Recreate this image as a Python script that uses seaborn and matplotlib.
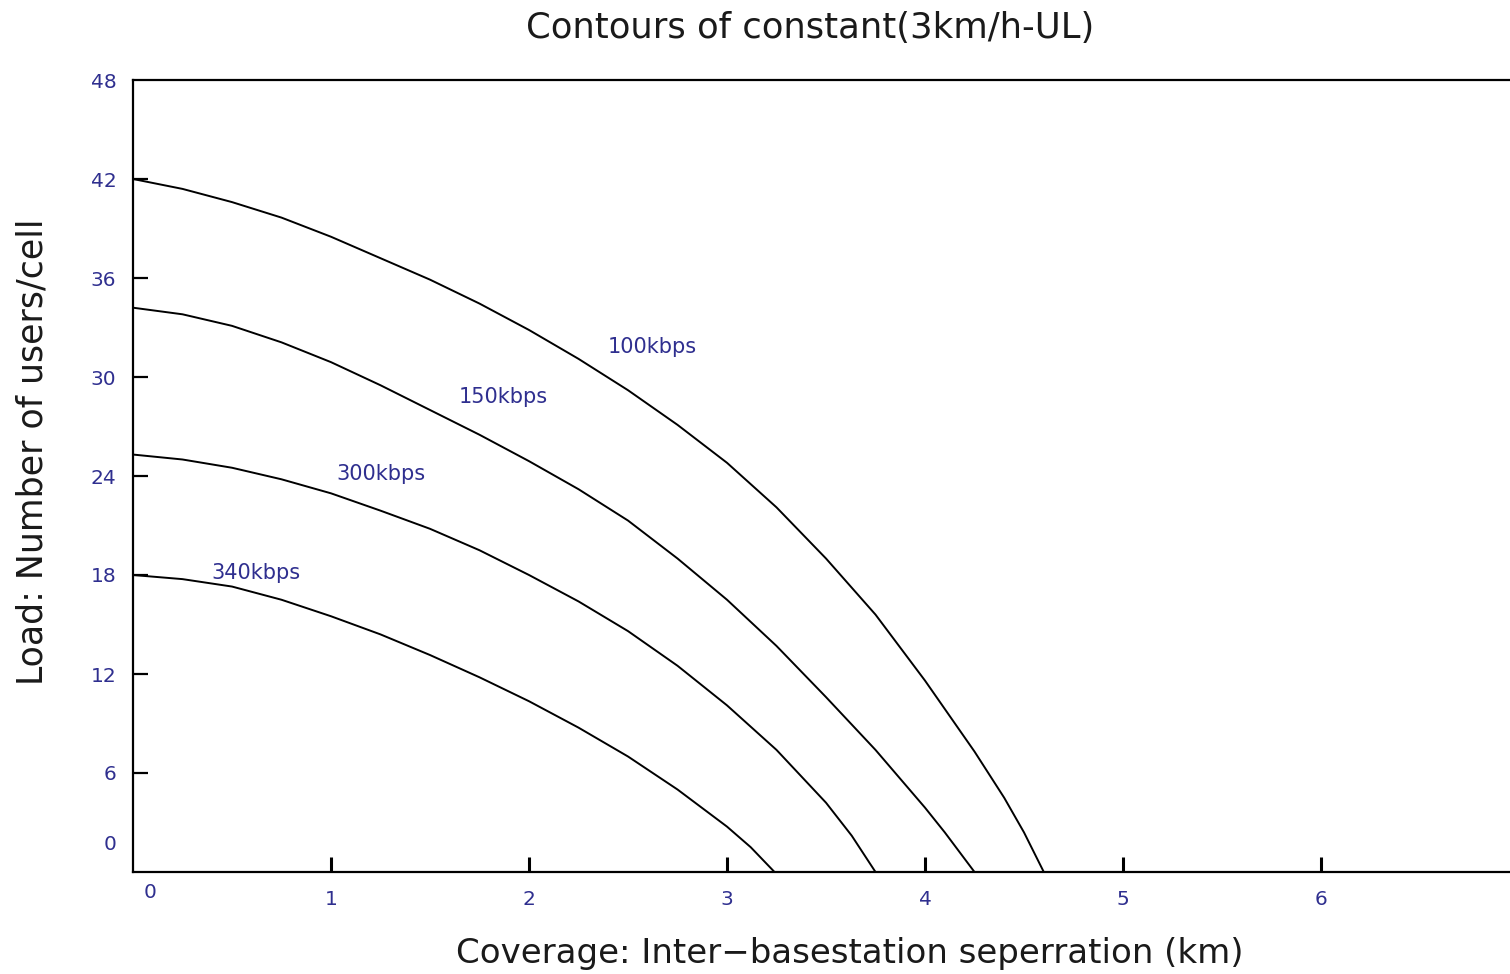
import numpy as np
import pandas as pd
import matplotlib
matplotlib.use("Agg")
import matplotlib.pyplot as plt
import matplotlib.transforms as mtransforms
import seaborn as sns

# ---- data ----
rates = ["100kbps", "150kbps", "300kbps", "340kbps"]

x_100 = [0.0, 0.25, 0.5, 0.75, 1.0, 1.25, 1.5, 1.75, 2.0, 2.25, 2.5, 2.75, 3.0, 3.25,
         3.5, 3.75, 4.0, 4.25, 4.4, 4.5, 4.6]
y_100 = [42.0, 41.4, 40.6, 39.66, 38.5, 37.2, 35.9, 34.45, 32.85, 31.1, 29.2, 27.1, 24.8, 22.1,
         19.0, 15.6, 11.6, 7.3, 4.5, 2.4, 0.0]

x_150 = [0.0, 0.25, 0.5, 0.75, 1.0, 1.25, 1.5, 1.75, 2.0, 2.25, 2.5, 2.75, 3.0, 3.25,
         3.5, 3.75, 3.9, 4.0, 4.1, 4.25]
y_150 = [34.2, 33.8, 33.1, 32.1, 30.9, 29.5, 28.0, 26.5, 24.9, 23.2, 21.3, 19.0, 16.5, 13.7,
         10.6, 7.4, 5.3, 3.9, 2.4, 0.0]

x_300 = [0.0, 0.25, 0.5, 0.75, 1.0, 1.25, 1.5, 1.75, 2.0, 2.25, 2.5, 2.75, 3.0, 3.25,
         3.5, 3.63, 3.75]
y_300 = [25.3, 25.0, 24.5, 23.8, 22.95, 21.9, 20.8, 19.5, 18.0, 16.4, 14.6, 12.5, 10.1, 7.4,
         4.2, 2.2, 0.0]

x_340 = [0.0, 0.25, 0.5, 0.75, 1.0, 1.25, 1.5, 1.75, 2.0, 2.25, 2.5, 2.75, 3.0, 3.12, 3.24]
y_340 = [18.0, 17.75, 17.3, 16.5, 15.5, 14.4, 13.15, 11.8, 10.35, 8.75, 7.0, 5.0, 2.75, 1.5, 0.0]

label_x = [2.62, 1.87, 1.25, 0.62]
label_y = [31.8, 28.8, 24.1, 18.1]

x_ticks = [0, 1, 2, 3, 4, 5, 6]
y_ticks = [0, 6, 12, 18, 24, 30, 36, 42, 48]

title = "Contours of constant(3km/h-UL)"
xlabel = "Coverage: Inter\u2212basestation seperration (km)"
ylabel = "Load: Number of users/cell"

# ---- build table ----
frames = []
for r, xs, ys in zip(rates, [x_100, x_150, x_300, x_340], [y_100, y_150, y_300, y_340]):
    frames.append(pd.DataFrame({"x": xs, "y": ys, "rate": r}))
df = pd.concat(frames, ignore_index=True)

sns.set_theme(style="white")
plt.rcParams["font.family"] = ["DejaVu Sans"]

fig = plt.figure(figsize=(15.10, 9.74), dpi=100)
ax = fig.add_axes([133 / 1510, 102 / 974, 1 - 133 / 1510, (872 - 80) / 974])

sns.lineplot(data=df, x="x", y="y", hue="rate", units="rate", estimator=None,
             sort=False, palette=["black"] * 4, legend=False, linewidth=1.4, ax=ax,
             solid_joinstyle="round")

navy = "#2f2f8f"
for r, lx, ly in zip(rates, label_x, label_y):
    ax.text(lx, ly, r, color=navy, fontsize=15, ha="center", va="center")

ax.set_xlim(0, (1510 - 133) / 198)
ax.set_ylim(0, 48)
ax.set_xticks(x_ticks)
ax.set_yticks(y_ticks)
ax.set_xticklabels([str(v) for v in x_ticks])
ax.set_yticklabels([str(v) for v in y_ticks])
ax.set_xlabel("")
ax.set_ylabel("")

for s in ["left", "bottom", "top"]:
    ax.spines[s].set_visible(True)
    ax.spines[s].set_color("black")
    ax.spines[s].set_linewidth(1.6)
ax.spines["right"].set_visible(False)

ax.tick_params(axis="x", direction="in", length=11, width=2.2, color="black",
               labelcolor=navy, labelsize=14.5, pad=13, bottom=True)
ax.tick_params(axis="y", direction="in", length=11, width=1.6, color="black",
               labelcolor=navy, labelsize=14.5, pad=12, left=True)

# hide the tick marks at the origin/top, shift the two "0" labels as in the reference
ax.xaxis.get_major_ticks()[0].tick1line.set_visible(False)
ax.yaxis.get_major_ticks()[0].tick1line.set_visible(False)
ax.yaxis.get_major_ticks()[-1].tick1line.set_visible(False)

fig.canvas.draw()
lab0x = ax.get_xticklabels()[0]
lab0x.set_transform(lab0x.get_transform() + mtransforms.ScaledTranslation(17 / 100, 7 / 100, fig.dpi_scale_trans))
lab0y = ax.get_yticklabels()[0]
lab0y.set_transform(lab0y.get_transform() + mtransforms.ScaledTranslation(0, 29 / 100, fig.dpi_scale_trans))

fig.text(810 / 1510, 1 - 28 / 974, title, ha="center", va="center", fontsize=25.5, color="#1a1a1a")
fig.text(850 / 1510, 1 - 953 / 974, xlabel, ha="center", va="center", fontsize=24.5, color="#1a1a1a")
fig.text(33 / 1510, 1 - 452 / 974, ylabel, ha="center", va="center", rotation=90, fontsize=25, color="#1a1a1a")

fig.savefig("out.png", dpi=100, facecolor="white")
